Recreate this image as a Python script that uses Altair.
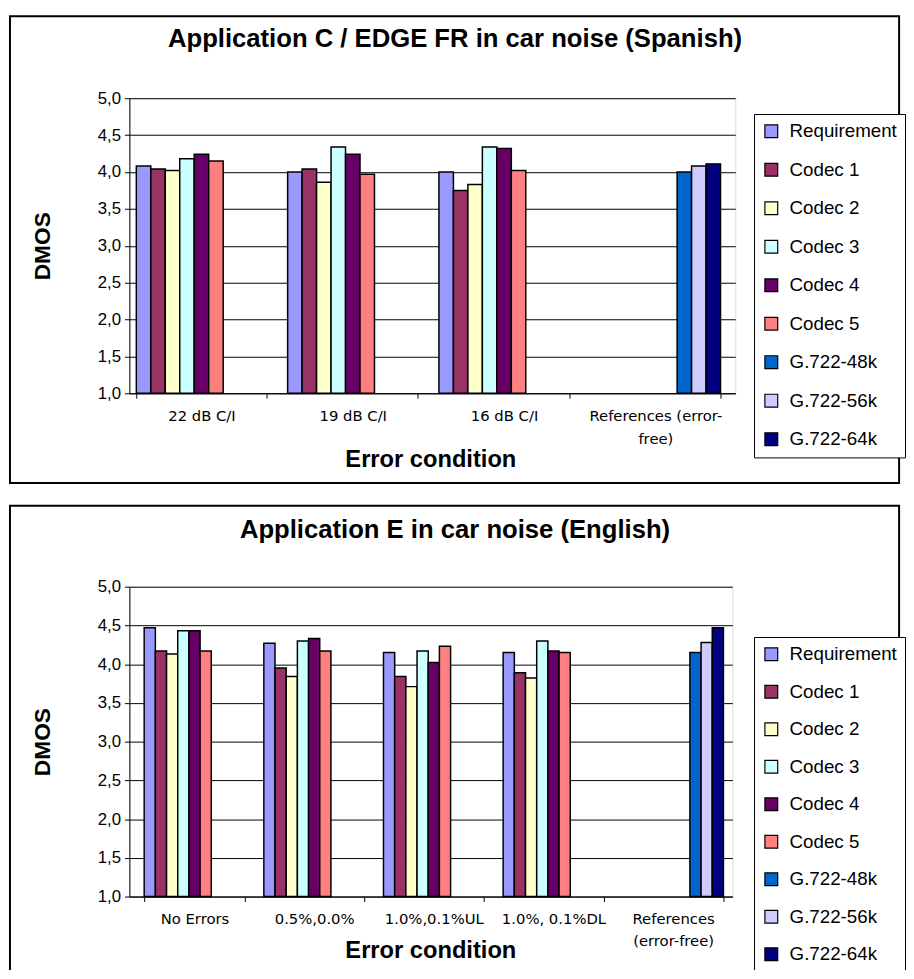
import altair as alt
import pandas as pd

# ---------------- data ----------------
series = ["Requirement", "Codec 1", "Codec 2", "Codec 3", "Codec 4", "Codec 5",
          "G.722-48k", "G.722-56k", "G.722-64k"]
series_colors = ["#9999FF", "#993366", "#FFFFCC", "#CCFFFF", "#660066", "#FF8080",
                 "#0066CC", "#CCCCFF", "#000080"]

top_title = "Application C / EDGE FR in car noise (Spanish)"
top_conditions = ["22 dB C/I", "19 dB C/I", "16 dB C/I", "References (error-free)"]
top_values = {
    "Requirement": [4.08, 4.00, 4.00, None],
    "Codec 1": [4.04, 4.04, 3.75, None],
    "Codec 2": [4.02, 3.86, 3.83, None],
    "Codec 3": [4.18, 4.34, 4.34, None],
    "Codec 4": [4.24, 4.24, 4.32, None],
    "Codec 5": [4.15, 3.97, 4.02, None],
    "G.722-48k": [None, None, None, 4.00],
    "G.722-56k": [None, None, None, 4.08],
    "G.722-64k": [None, None, None, 4.11],
}

bottom_title = "Application E in car noise (English)"
bottom_conditions = ["No Errors", "0.5%,0.0%", "1.0%,0.1%UL", "1.0%, 0.1%DL",
                     "References (error-free)"]
bottom_values = {
    "Requirement": [4.47, 4.27, 4.15, 4.15, None],
    "Codec 1": [4.17, 3.95, 3.84, 3.89, None],
    "Codec 2": [4.13, 3.84, 3.71, 3.82, None],
    "Codec 3": [4.43, 4.30, 4.17, 4.30, None],
    "Codec 4": [4.43, 4.33, 4.02, 4.17, None],
    "Codec 5": [4.17, 4.17, 4.23, 4.15, None],
    "G.722-48k": [None, None, None, None, 4.15],
    "G.722-56k": [None, None, None, None, 4.28],
    "G.722-64k": [None, None, None, None, 4.47],
}

y_ticks = [1.0, 1.5, 2.0, 2.5, 3.0, 3.5, 4.0, 4.5, 5.0]

FONT = "Liberation Sans"
TICK_FONT = "DejaVu Sans"


def long_table(conditions, values):
    rows = []
    for s in series:
        for c, v in zip(conditions, values[s]):
            if v is not None:
                rows.append({"condition": c, "series": s, "dmos": v})
    return pd.DataFrame(rows)


def panel(conditions, values, title, W, H, border, title_xy, dmos_x, xtitle,
          legend_xy, row_pad, label_expr, pad_inner, pad_outer, band_align, label_pad):
    df = long_table(conditions, values)
    bars = alt.Chart(df).mark_bar(stroke="black", strokeWidth=1.5).encode(
        x=alt.X("condition:N", sort=conditions,
                scale=alt.Scale(domain=conditions, paddingInner=pad_inner,
                                paddingOuter=pad_outer, align=band_align),
                axis=alt.Axis(title="Error condition", labelAngle=0, tickBand="extent",
                              labelFont=TICK_FONT, labelFontSize=15, labelColor="black",
                              labelExpr=label_expr, labelLineHeight=23,
                              labelPadding=label_pad, tickColor="black",
                              domainColor="black",
                              tickSize=5, titleFont=FONT, titleFontSize=24,
                              titleFontWeight="bold", titleColor="black",
                              titleX=xtitle[0], titleY=xtitle[1], titleBaseline="middle")),
        xOffset=alt.XOffset("series:N", sort=series,
                            scale=alt.Scale(domain=series, paddingInner=0, paddingOuter=0)),
        y=alt.Y("dmos:Q", scale=alt.Scale(domain=[1, 5], nice=False, zero=False),
                axis=alt.Axis(title="DMOS", values=y_ticks, format=".1f",
                              labelExpr="replace(datum.label, '.', ',')",
                              labelFont=FONT, labelFontSize=17, labelColor="black",
                              labelPadding=4, tickColor="black", domainColor="black",
                              tickSize=5, grid=True, gridColor="black",
                              gridOpacity=1, gridWidth=1,
                              titleFont=FONT, titleFontSize=23, titleFontWeight="bold",
                              titleColor="black", titleX=dmos_x, titleY=H / 2,
                              titleAngle=270, titleBaseline="middle", titleAlign="center")),
        y2=alt.datum(1),
        color=alt.Color("series:N", sort=series,
                        scale=alt.Scale(domain=series, range=series_colors),
                        legend=alt.Legend(title=None, orient="none",
                                          legendX=legend_xy[0], legendY=legend_xy[1],
                                          symbolType="square", symbolSize=169,
                                          symbolStrokeColor="black", symbolStrokeWidth=1.2,
                                          labelFont=FONT, labelFontSize=19,
                                          labelColor="black", labelOffset=9,
                                          rowPadding=row_pad, padding=8,
                                          strokeColor="black", fillColor="white")),
    )
    frame_df = pd.DataFrame({"k": [0]})
    frame = alt.Chart(frame_df).mark_rect(fill="white", fillOpacity=0, stroke="black",
                                          strokeWidth=2).encode(
        x=alt.value(border[0]), x2=alt.value(border[2]),
        y=alt.value(border[1]), y2=alt.value(border[3]))
    head = alt.Chart(frame_df).mark_text(font=FONT, fontSize=26, fontWeight="bold",
                                         color="black", baseline="middle",
                                         align="center").encode(
        x=alt.value(title_xy[0]), y=alt.value(title_xy[1]), text=alt.value(title))
    return alt.layer(frame, bars, head).properties(width=W, height=H)


top = panel(top_conditions, top_values, top_title, W=614, H=299,
            border=(-121, -83, 780, 390), title_xy=(330, -60), dmos_x=-88,
            xtitle=(305, 67), legend_xy=(633, 16), row_pad=19,
            label_expr="datum.value == 'References (error-free)' ? ['References (error-', 'free)'] : datum.label",
            pad_inner=0.139, pad_outer=0.0717, band_align=0.32, label_pad=11)

bottom = panel(bottom_conditions, bottom_values, bottom_title, W=611, H=314,
               border=(-121, -82, 780, 421), title_xy=(330, -57), dmos_x=-88,
               xtitle=(305, 55), legend_xy=(633, 51), row_pad=18,
               label_expr="datum.value == 'References (error-free)' ? ['References', '(error-free)'] : datum.label",
               pad_inner=0.159, pad_outer=0.099, band_align=0.625, label_pad=10)

chart = alt.concat(top, bottom, columns=1, spacing=19, align="none").resolve_scale(
    x="independent", y="independent", xOffset="independent", color="independent"
).resolve_legend(color="independent").properties(
    padding={"left": 0, "top": 0, "right": 0, "bottom": -41}
).configure_view(
    fill="#C0C0C0", stroke="#808080", strokeWidth=1
).configure(background="white")

chart.save("out.html", embed_options={"renderer": "svg", "actions": False})
